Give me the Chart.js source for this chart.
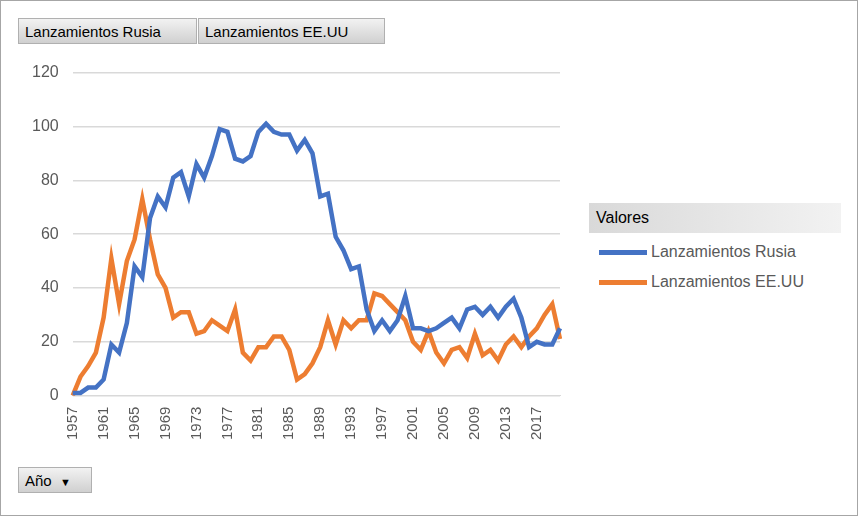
<!DOCTYPE html>
<html>
<head>
<meta charset="utf-8">
<script src="https://cdn.jsdelivr.net/npm/chart.js@4"></script>
<style>
  body { margin: 0; background: #fff; font-family: "Liberation Sans", Arial, sans-serif; }
  #frame { position: absolute; left: 0; top: 0; width: 856px; height: 514px; border: 1px solid #a6a6a6; }
  .btn { position: absolute; height: 26px; line-height: 26px; font-size: 15px; color: #000;
         background: linear-gradient(#f2f2f2, #d0d0d0); border: 1px solid #b0b0b0; padding: 0 6px; box-sizing: border-box; }
  #chartBox { position: absolute; left: 18px; top: 49px; width: 563px; height: 394px; }
  #legend { position: absolute; left: 589px; top: 203px; width: 252px; }
  #legend .hdr { height: 30px; line-height: 30px; padding-left: 7px; font-size: 16px;
         background: linear-gradient(90deg, #d9d9d9, #f2f2f2); }
  #legend .item { height: 38px; line-height: 38px; font-size: 16px; color: #595959; }
  #legend .sw { display: inline-block; width: 48px; height: 5px; vertical-align: middle; margin: 0 4px 0 10px; }
</style>
</head>
<body>
<div id="frame"></div>
<div class="btn" style="left:18px;top:18px;width:179px;">Lanzamientos Rusia</div>
<div class="btn" style="left:198px;top:18px;width:187px;">Lanzamientos EE.UU</div>
<div class="btn" style="left:18px;top:467px;width:74px;">Año &nbsp;<span style="font-size:11px">&#9660;</span></div>
<div id="chartBox"><canvas id="chart"></canvas></div>
<div id="legend">
  <div class="hdr">Valores</div>
  <div class="item"><span class="sw" style="background:#4472C4"></span>Lanzamientos Rusia</div>
  <div class="item" style="margin-top:-8px"><span class="sw" style="background:#ED7D31"></span>Lanzamientos EE.UU</div>
</div>
<script>
'use strict';

let years = [];
for (let y = 1957; y <= 2020; y++) years.push(String(y));

let rusia = [
  1, 1, 3, 3, 6, 19, 16, 27, 48, 44,
  66, 74, 70, 81, 83, 74, 86, 81, 89, 99,
  98, 88, 87, 89, 98, 101, 98, 97, 97, 91,
  95, 90, 74, 75, 59, 54, 47, 48, 32, 24,
  28, 24, 28, 37, 25, 25, 24, 25, 27, 29,
  25, 32, 33, 30, 33, 29, 33, 36, 29, 18,
  20, 19, 19, 25
];

let eeuu = [
  0, 7, 11, 16, 29, 51, 34, 50, 58, 73,
  58, 45, 40, 29, 31, 31, 23, 24, 28, 26,
  24, 32, 16, 13, 18, 18, 22, 22, 17, 6,
  8, 12, 18, 28, 19, 28, 25, 28, 28, 38,
  37, 34, 31, 28, 20, 17, 24, 16, 12, 17,
  18, 14, 23, 15, 17, 13, 19, 22, 18, 22,
  25, 30, 34, 21
];

let ctx = document.getElementById('chart').getContext('2d');
// eslint-disable-next-line no-unused-vars
let launchChart = new Chart(ctx, {
  type: 'line',
  data: {
    labels: years,
    datasets: [{
      label: 'Lanzamientos Rusia',
      data: rusia,
      borderColor: '#4472C4',
      borderWidth: 4.5,
      pointRadius: 0,
      tension: 0
    }, {
      label: 'Lanzamientos EE.UU',
      data: eeuu,
      borderColor: '#ED7D31',
      borderWidth: 4.5,
      pointRadius: 0,
      tension: 0
    }]
  },
  options: {
    responsive: true,
    maintainAspectRatio: false,
    animation: false,
    layout: { padding: { top: 5, right: 0 } },
    plugins: { legend: { display: false }, tooltip: { enabled: false } },
    scales: {
      x: {
        offset: false,
        grid: { display: false },
        border: { color: '#d9d9d9' },
        ticks: {
          color: '#595959',
          font: { family: 'Liberation Sans', size: 15 },
          minRotation: 90, maxRotation: 90,
          autoSkip: false,
          callback: function (v, i) { return i % 4 === 0 ? years[i] : ''; }
        }
      },
      y: {
        min: 0, max: 120,
        grid: { color: '#d9d9d9', lineWidth: 1.5, drawTicks: false },
        border: { display: false },
        ticks: {
          stepSize: 20,
          padding: 14,
          color: '#595959',
          font: { family: 'Liberation Sans', size: 16 }
        }
      }
    }
  }
});
</script>
</body>
</html>
